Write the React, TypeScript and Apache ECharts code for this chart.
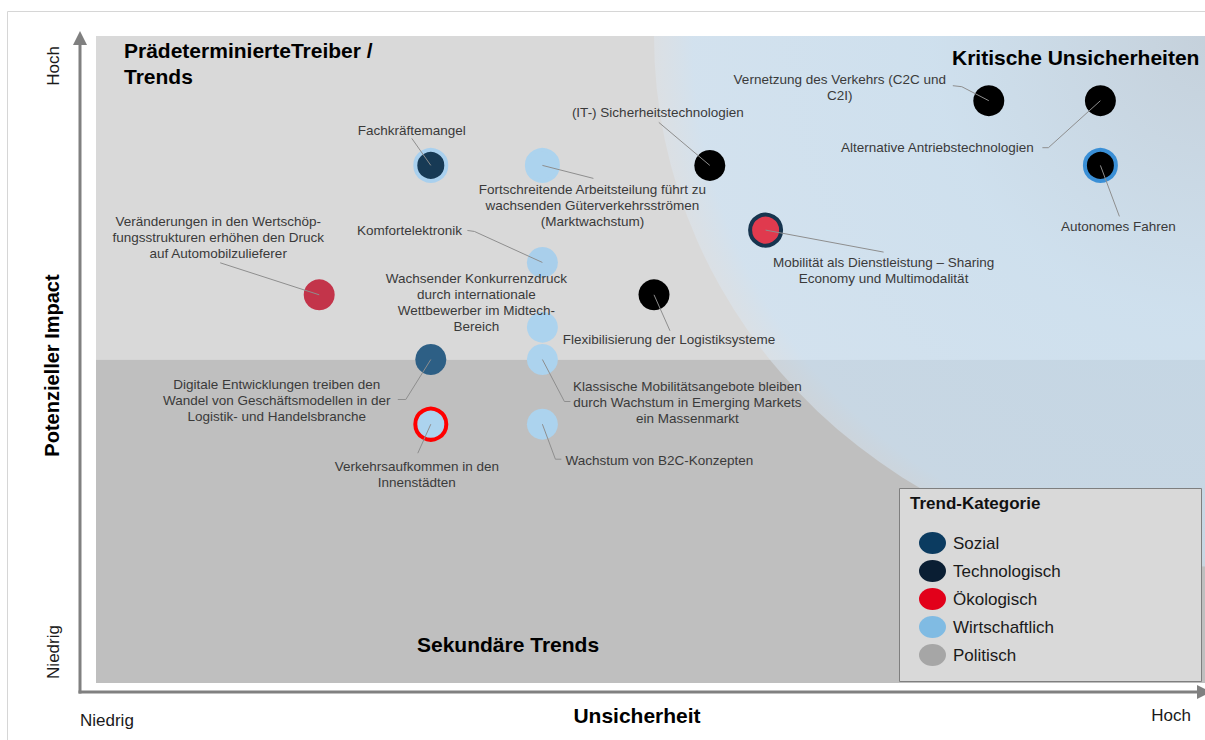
import React, { useEffect, useRef } from "react";
import * as echarts from "echarts";

const FONT = '"Liberation Sans", Arial, Helvetica, sans-serif';

// ---- data ----
const CATEGORIES = ["Sozial", "Technologisch", "Ökologisch", "Wirtschaftlich", "Politisch"];
const CATEGORY_COLORS = ["#0b3b60", "#0a1e33", "#e2001a", "#80bbe3", "#a6a6a6"];

const TRENDS = [
  "Fachkräftemangel",
  "Fortschreitende Arbeitsteilung führt zu\nwachsenden Güterverkehrsströmen\n(Marktwachstum)",
  "(IT-) Sicherheitstechnologien",
  "Vernetzung des Verkehrs (C2C und\nC2I)",
  "Alternative Antriebstechnologien",
  "Autonomes Fahren",
  "Mobilität als Dienstleistung – Sharing\nEconomy und Multimodalität",
  "Veränderungen in den Wertschöp-\nfungsstrukturen erhöhen den Druck\nauf Automobilzulieferer",
  "Komfortelektronik",
  "Wachsender Konkurrenzdruck\ndurch internationale\nWettbewerber im Midtech-\nBereich",
  "Flexibilisierung der Logistiksysteme",
  "Digitale Entwicklungen treiben den\nWandel von Geschäftsmodellen in der\nLogistik- und Handelsbranche",
  "Klassische Mobilitätsangebote bleiben\ndurch Wachstum in Emerging Markets\nein Massenmarkt",
  "Verkehrsaufkommen in den\nInnenstädten",
  "Wachstum von B2C-Konzepten",
];
const UNSICHERHEIT = [3, 4, 5.5, 8, 9, 9, 6, 2, 4, 4, 5, 3, 4, 3, 4];
const IMPACT = [8, 8, 8, 9, 9, 8, 7, 6, 6.5, 5.5, 6, 5, 5, 4, 4];
const KATEGORIE = [
  "Sozial", "Wirtschaftlich", "Technologisch", "Technologisch", "Technologisch",
  "Technologisch", "Ökologisch", "Ökologisch", "Wirtschaftlich", "Wirtschaftlich",
  "Technologisch", "Sozial", "Wirtschaftlich", "Wirtschaftlich", "Wirtschaftlich",
];

const X_AXIS_LABELS = ["Niedrig", "Hoch"];
const Y_AXIS_LABELS = ["Niedrig", "Hoch"];
const X_NAME = "Unsicherheit";
const Y_NAME = "Potenzieller Impact";
const QUADRANTS = ["PrädeterminierteTreiber /\nTrends", "Kritische Unsicherheiten", "Sekundäre Trends"];
const LEGEND_TITLE = "Trend-Kategorie";

// ---- styles / layout (not data) ----
const POINT_FILL = [
  "#173a55", "#acd3ee", "#000000", "#000000", "#000000",
  "#000000", "#e03a4e", "#c3344a", "#a9cfeb", "#acd3ee",
  "#000000", "#2d5f85", "#acd3ee", "#acd3ee", "#acd3ee",
];
const POINT_RING = ["#a9d0ee", "#acd3ee", "", "", "", "#3a8fd6", "#17354f", "", "", "", "", "", "", "#ff0000", ""];
const LABEL_OFFSET = [
  [-19, -35], [50, 40], [-52, -53], [-149, -13], [-163, 47],
  [18, 61], [118, 40], [-101, -57], [-133, -32], [-66, -25],
  [15, 45], [-154, 41], [145, 43], [-14, 50], [117, 36],
];
const LEADERS = [
  [[-19, -27]], [[51, 13]], [[-51, -43]], [[-27, -14], [-36, -15]], [[-52, 47], [-58, 47]],
  [[19, 51]], [[118, 22]], [[-99, -32]], [[-68, -31], [-75, -32]], [],
  [[16, 36]], [[-25, 40], [-33, 40]], [[22, 42], [28, 42]], [[-13, 29]], [[13, 35], [19, 35]],
];
const BLUE_RX = 5;
const BLUE_RY = 8.2;
const AXIS_GRAY = "#808080";

export default function App() {
  const ref = useRef<HTMLDivElement>(null);
  useEffect(() => {
    document.body.style.margin = "0";
    const chart = echarts.init(ref.current!, null, { renderer: "svg" });

    const bgSeries: any = {
      type: "custom",
      name: "bg",
      z: 0,
      silent: true,
      data: [[0, 0]],
      renderItem: (_p: any, api: any) => {
        const tl = api.coord([0, 10]);
        const mid = api.coord([10, 5]);
        const br = api.coord([10, 0]);
        const c = api.coord([10, 10]);
        const a = api.coord([10 - BLUE_RX, 10]);
        const b = api.coord([10, 10 - BLUE_RY]);
        const rx = c[0] - a[0];
        const ry = b[1] - c[1];
        const d = `M ${a[0]} ${a[1]} A ${rx} ${ry} 0 0 0 ${b[0]} ${b[1]} L ${c[0]} ${c[1]} Z`;
        return {
          type: "group",
          children: [
            { type: "rect", shape: { x: tl[0], y: tl[1], width: br[0] - tl[0], height: mid[1] - tl[1] }, style: { fill: "#d9d9d9" } },
            { type: "rect", shape: { x: tl[0], y: mid[1], width: br[0] - tl[0], height: br[1] - mid[1] }, style: { fill: "#bfbfbf" } },
            {
              type: "path",
              shape: { pathData: d },
              style: {
                fill: new echarts.graphic.RadialGradient(c[0], c[1], Math.max(rx, ry), [
                  { offset: 0, color: "rgba(186,204,220,0.65)" },
                  { offset: 0.5, color: "rgba(200,228,250,0.62)" },
                  { offset: 0.93, color: "rgba(206,231,252,0.6)" },
                  { offset: 1, color: "rgba(222,230,238,0.5)" },
                ], true),
              },
            },
          ],
        };
      },
    };

    const scatterSeries = CATEGORIES.map((cat, ci) => ({
      type: "scatter",
      name: cat,
      z: 3,
      symbol: "circle",
      symbolSize: 31,
      itemStyle: { color: CATEGORY_COLORS[ci], opacity: 1 },
      emphasis: { disabled: true },
      data: TRENDS.map((_t, i) => i)
        .filter((i) => KATEGORIE[i] === cat)
        .map((i) => ({
          name: TRENDS[i],
          value: [UNSICHERHEIT[i], IMPACT[i]],
          itemStyle: {
            color: POINT_FILL[i],
            borderColor: POINT_RING[i] || POINT_FILL[i],
            borderWidth: POINT_RING[i] ? 4 : 0,
            opacity: 1,
          },
        })),
    }));

    const labelSeries: any = {
      type: "custom",
      name: "labels",
      z: 4,
      silent: true,
      data: TRENDS.map((_t, i) => [UNSICHERHEIT[i], IMPACT[i]]),
      renderItem: (params: any, api: any) => {
        const i = params.dataIndex;
        const p = api.coord([api.value(0), api.value(1)]);
        const children: any[] = [];
        const leader = LEADERS[i];
        if (leader.length) {
          children.push({
            type: "polyline",
            shape: { points: [[p[0], p[1]], ...leader.map(([dx, dy]) => [p[0] + dx, p[1] + dy])] },
            style: { stroke: "#8e8e8e", lineWidth: 1, fill: "none" },
          });
        }
        children.push({
          type: "text",
          x: p[0] + LABEL_OFFSET[i][0],
          y: p[1] + LABEL_OFFSET[i][1],
          style: {
            text: TRENDS[i],
            fill: "#3a3a3a",
            fontSize: 13.5,
            fontFamily: FONT,
            align: "center",
            verticalAlign: "middle",
            lineHeight: 16,
          },
        });
        return { type: "group", children };
      },
    };

    const axisText = (text: string, x: number, y: number, align: string, rotate = 0) => ({
      type: "text",
      z: 2,
      x,
      y,
      rotation: rotate,
      silent: true,
      style: { text, fill: "#1a1a1a", fontSize: 17, fontFamily: FONT, align, verticalAlign: "middle" },
    });
    const titleText = (text: string, x: number, y: number) => ({
      type: "text",
      z: 2,
      x,
      y,
      silent: true,
      style: { text, fill: "#000000", fontSize: 21, fontWeight: "bold", fontFamily: FONT, align: "left", verticalAlign: "middle", lineHeight: 26 },
    });

    const option: any = {
      animation: false,
      grid: { left: 96, top: 36, width: 1116, height: 647, containLabel: false, outerBoundsMode: "none" },
      xAxis: {
        type: "value",
        min: 0,
        max: 10,
        name: X_NAME,
        nameLocation: "middle",
        nameGap: 22,
        nameTextStyle: { fontSize: 21, fontWeight: "bold", fontFamily: FONT, color: "#000", padding: [0, 34, 0, 0] },
        axisLine: { show: false },
        axisTick: { show: false },
        axisLabel: { show: false },
        splitLine: { show: false },
      },
      yAxis: {
        type: "value",
        min: 0,
        max: 10,
        name: Y_NAME,
        nameLocation: "middle",
        nameGap: 34,
        nameTextStyle: { fontSize: 20, fontWeight: "bold", fontFamily: FONT, color: "#000", padding: [0, 12, 0, 0] },
        axisLine: { show: false },
        axisTick: { show: false },
        axisLabel: { show: false },
        splitLine: { show: false },
      },
      legend: {
        data: CATEGORIES,
        orient: "vertical",
        left: 914,
        top: 527,
        z: 12,
        itemWidth: 27,
        itemHeight: 22,
        itemGap: 6,
        selectedMode: false,
        icon: "path://M0,11 A13.5,11 0 1,1 27,11 A13.5,11 0 1,1 0,11 Z",
        textStyle: { fontSize: 17, fontFamily: FONT, color: "#1a1a1a", padding: [0, 0, 0, 2] },
      },
      graphic: {
        elements: [
          { type: "rect", z: 1, silent: true, shape: { x: 7.5, y: 11.5, width: 1400, height: 900 }, style: { fill: "none", stroke: "#d6d6d6", lineWidth: 1 } },
          { type: "line", z: 1, silent: true, shape: { x1: 80, y1: 693.5, x2: 80, y2: 44 }, style: { stroke: AXIS_GRAY, lineWidth: 3 } },
          { type: "polygon", z: 1, silent: true, shape: { points: [[80, 31], [73, 45], [87, 45]] }, style: { fill: AXIS_GRAY } },
          { type: "line", z: 1, silent: true, shape: { x1: 78.5, y1: 692, x2: 1197, y2: 692 }, style: { stroke: AXIS_GRAY, lineWidth: 3 } },
          { type: "polygon", z: 1, silent: true, shape: { points: [[1211, 692], [1197, 685], [1197, 699]] }, style: { fill: AXIS_GRAY } },
          axisText(Y_AXIS_LABELS[1], 53, 66, "center", Math.PI / 2),
          axisText(Y_AXIS_LABELS[0], 53, 652, "center", Math.PI / 2),
          axisText(X_AXIS_LABELS[0], 80, 720, "left"),
          axisText(X_AXIS_LABELS[1], 1191, 715, "right"),
          titleText(QUADRANTS[0], 124, 63.5),
          titleText(QUADRANTS[1], 952, 57),
          titleText(QUADRANTS[2], 417, 644),
          { type: "rect", z: 10, silent: true, shape: { x: 899.5, y: 488.5, width: 302, height: 193 }, style: { fill: "#d9d9d9", stroke: "#7f7f7f", lineWidth: 1 } },
          {
            type: "text",
            z: 11,
            x: 910,
            y: 503,
            silent: true,
            style: { text: LEGEND_TITLE, fill: "#111", fontSize: 17, fontWeight: "bold", fontFamily: FONT, align: "left", verticalAlign: "middle" },
          },
        ],
      },
      series: [bgSeries, ...scatterSeries, labelSeries],
    };

    chart.setOption(option);
    return () => chart.dispose();
  }, []);
  return <div ref={ref} style={{ width: 1205, height: 740 }} />;
}
